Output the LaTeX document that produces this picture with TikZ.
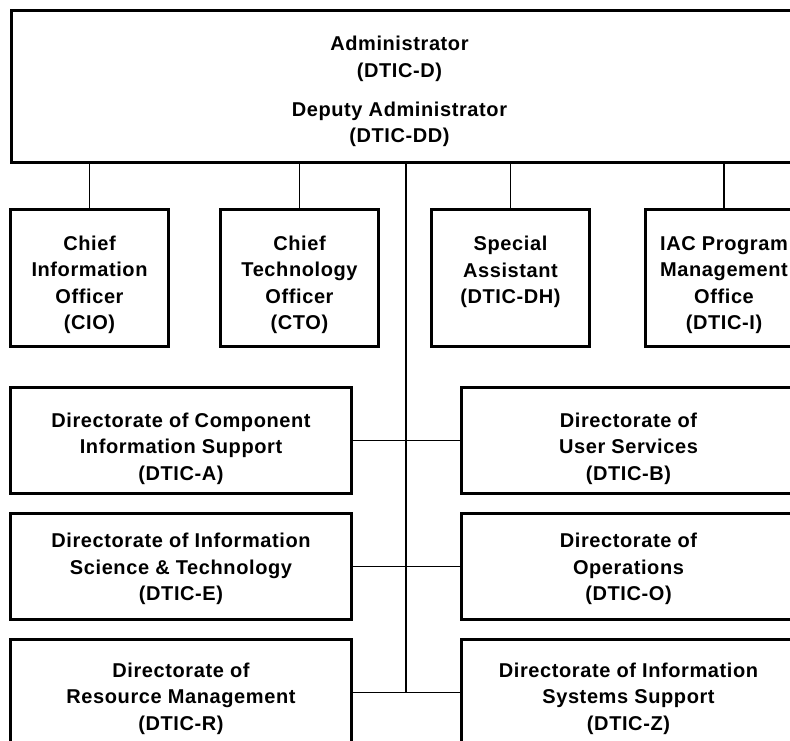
\documentclass[tikz,border=0pt]{standalone}
\usepackage{fontspec}
\setmainfont{Liberation Sans}[LetterSpace=3]
\usetikzlibrary{positioning}
\newcommand{\orglines}[2]{\raisebox{#1}[\height][\depth]{\begin{tabular}{@{}c@{}}#2\end{tabular}}}

\begin{document}
\begin{tikzpicture}[x=1pt, y=-1pt, node distance=17pt,
    every node/.style={align=center, font=\fontsize{20}{26.5}\selectfont\bfseries},
    orgbox/.style={draw=black, line width=3pt, minimum width=158pt, minimum height=137pt, inner sep=0pt},
    dirbox/.style={draw=black, line width=3pt, minimum width=341pt, minimum height=106pt, inner sep=0pt},
    link/.style={line width=1.2pt}]

        \useasboundingbox (0,0) rectangle (790,740);
        \clip (0,0) rectangle (790,740);

        % Top box
        \node[draw=black, line width=3pt, minimum width=782pt, minimum height=152pt, inner sep=0pt] (adminBox) at (402.5,86.5) {%
            \orglines{-5pt}{Administrator \\ (DTIC-D) \\[12.5pt] Deputy Administrator \\ (DTIC-DD)}
        };

        % Staff offices
        \node[orgbox] (cioBox) at (89.5,278.3) {\orglines{-6.6pt}{Chief \\ Information \\ Officer \\ (CIO)}};
        \node[orgbox] (ctoBox) at (299.5,278.3) {\orglines{-6.6pt}{Chief \\ Technology \\ Officer \\ (CTO)}};
        \node[orgbox] (assistBox) at (510.5,278.3) {\orglines{6.4pt}{Special \\ Assistant \\ (DTIC-DH)}};
        \node[orgbox] (iacBox) at (724,278.3) {\orglines{-6.6pt}{IAC Program \\ Management \\ Office \\ (DTIC-I)}};

        % Directorates
        \node[dirbox] (dirABox) at (181,440.3) {\orglines{-8pt}{Directorate of Component \\ Information Support \\ (DTIC-A)}};
        \node[dirbox, minimum width=334pt, right=107pt of dirABox] (dirBBox) {\orglines{-8pt}{Directorate of \\ User Services \\ (DTIC-B)}};
        \node[dirbox, below=of dirABox] (dirEBox) {\orglines{-2.6pt}{Directorate of Information \\ Science \& Technology \\ (DTIC-E)}};
        \node[dirbox, minimum width=334pt, below=of dirBBox] (dirOBox) {\orglines{-2.6pt}{Directorate of \\ Operations \\ (DTIC-O)}};
        \node[dirbox, below=of dirEBox] (dirRBox) {\orglines{-6pt}{Directorate of \\ Resource Management \\ (DTIC-R)}};
        \node[dirbox, minimum width=334pt, below=of dirOBox] (dirZBox) {\orglines{-6pt}{Directorate of Information \\ Systems Support \\ (DTIC-Z)}};

        % Connectors
        \coordinate (trunk) at (406,0);
        \draw[link] (adminBox.south -| trunk) -- (dirRBox.east -| trunk);
        \foreach \office in {cioBox, ctoBox, assistBox, iacBox}
            \draw[link] (adminBox.south -| \office.north) -- (\office.north);
        \draw[link] (dirABox.east) -- (dirBBox.west);
        \draw[link] (dirEBox.east) -- (dirOBox.west);
        \draw[link] (dirRBox.east) -- (dirZBox.west);

\end{tikzpicture}
\end{document}
